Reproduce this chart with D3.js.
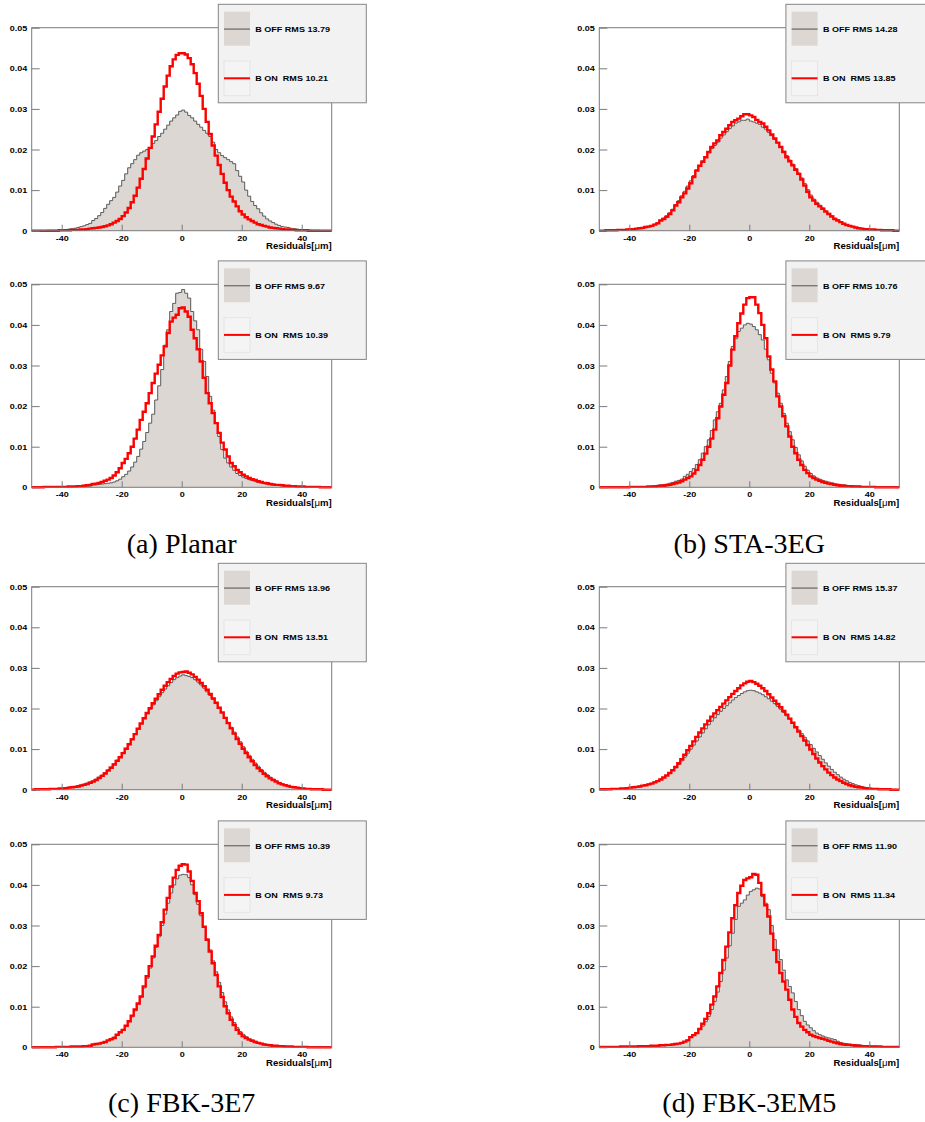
<!DOCTYPE html>
<html>
<head>
<meta charset="utf-8">
<script src="https://cdn.jsdelivr.net/npm/d3@7"></script>
<style>
body { margin: 0; background: #fff; }
svg text { font-family: "Liberation Sans", Arial, Helvetica, sans-serif; }
</style>
</head>
<body>
<div id="chart"></div>
<script>
////////////////////////////////////////////////////////////////
// Data: normalised residual histograms, 1 um bins from -50 to 50
// values are in units of 1e-4 (bin -50..-49 first)

var xTicks = [-40, -20, 0, 20, 40];
var yTicks = [0, 0.01, 0.02, 0.03, 0.04, 0.05];
var captions = ["(a) Planar", "(b) STA-3EG", "(c) FBK-3E7", "(d) FBK-3EM5"];
var offRms = ["13.79", "9.67", "14.28", "10.76", "13.96", "10.39", "15.37", "11.90"];
var onRms = ["10.21", "10.39", "13.85", "9.79", "13.51", "9.73", "14.82", "11.34"];

var planarOffTop = [0,0,0,0,0,1,1,1,1,2, 2,3,4,5,6,8,10,12,15,18, 25,30,37,45,55,65,74,82,95,110,
  124,140,155,165,175,186,192,196,200,205, 215,222,232,240,250,260,270,278,285,294,
  297,292,284,278,270,262,255,247,240,232, 218,200,192,185,180,175,170,165,148,134,
  120,100,85,72,62,54,44,36,29,24, 20,16,13,10,9,8,6,5,4,3, 3,2,2,1,1,1,0,0,0,0];
var planarOnTop = [0,0,0,0,0,0,0,0,0,1, 1,1,1,2,2,2,3,3,4,5, 6,7,8,9,11,13,16,20,24,29,
  36,45,56,70,86,106,128,152,178,204, 232,262,293,325,355,382,405,422,433,437,
  437,434,425,410,388,362,332,300,268,238, 210,185,162,140,118,100,84,72,60,48,
  40,33,28,24,20,16,14,12,10,8, 7,6,5,4,3,3,2,2,1,1, 1,1,0,0,0,0,0,0,0,0];
var planarOffBot = [0,0,0,0,0,0,0,0,1,1, 1,1,1,1,2,2,2,3,3,3, 6,6,7,8,9,10,11,13,16,20,
  26,32,40,50,62,76,94,113,135,158, 180,215,250,290,350,388,433,453,478,480,
  487,478,466,433,410,388,340,310,273,224, 190,158,125,93,72,60,50,42,34,29,
  25,22,19,17,15,12,11,9,8,7, 6,5,5,4,3,3,2,2,2,1, 1,1,1,0,0,0,0,0,0,0];
var planarOnBot = [0,0,0,0,1,1,1,1,1,1, 1,1,2,2,2,3,3,4,5,6, 8,9,11,13,16,19,23,29,37,47,
  60,70,84,100,120,142,166,186,207,232, 257,280,302,325,347,380,408,418,425,441,
  443,433,420,388,367,340,310,270,232,207, 183,158,134,110,93,76,60,52,43,37,
  31,27,23,20,18,15,13,11,10,8, 7,6,6,5,4,4,3,3,2,2, 2,1,1,1,1,1,0,0,0,0];

var staOffTop = [0,0,1,1,1,1,2,2,2,3, 4,5,5,6,8,9,11,13,16,20, 26,31,37,44,53,64,74,86,97,110,
  123,136,150,161,172,182,192,202,210,218, 228,236,244,252,258,265,268,272,272,275,
  270,268,265,262,255,250,242,234,225,216, 206,196,185,174,164,153,142,130,116,101,
  88,78,70,63,56,49,43,37,31,27, 22,18,15,12,10,8,7,5,4,4, 3,3,2,2,1,1,1,1,0,0];
var staOnTop = [0,0,1,1,1,1,2,2,2,3, 4,4,5,6,7,9,10,12,15,18, 25,29,34,41,50,62,70,82,92,104,
  117,132,148,160,170,181,194,206,215,222, 235,243,251,260,268,272,276,282,287,287,
  284,280,273,268,264,256,247,237,227,217, 206,194,181,171,161,150,140,126,111,96,
  82,74,66,60,54,47,41,35,29,25, 21,17,14,12,10,8,6,5,4,4, 3,3,2,2,1,1,1,1,0,0];
var staOffBot = [0,0,0,0,0,0,0,0,1,1, 1,1,1,2,2,2,2,3,4,5, 6,7,8,10,12,15,17,20,27,32,
  39,46,56,68,84,100,117,140,166,186, 207,240,273,310,347,366,384,392,400,404,
  402,396,388,376,363,340,314,281,257,232, 207,182,158,137,117,98,80,65,52,42,
  34,28,23,20,17,15,13,11,9,8, 7,6,5,4,4,3,3,2,2,1, 1,1,1,0,0,0,0,0,0,0];
var staOnBot = [0,0,0,0,0,0,0,0,0,0, 1,1,1,1,1,1,2,2,2,3, 4,4,5,6,8,10,12,15,19,23,
  27,34,43,55,68,83,100,120,142,170, 199,228,257,300,339,372,404,428,450,466,
  468,468,450,429,400,367,322,290,261,224, 199,175,150,125,100,84,68,55,43,35,
  27,23,19,16,13,11,9,8,6,5, 4,4,3,3,2,2,2,1,1,1, 1,1,0,0,0,0,0,0,0,0];

var e7OffTop = [0,1,1,1,1,2,2,2,3,3, 4,5,6,7,8,10,12,14,16,19, 22,26,31,36,42,49,56,64,73,82,
  92,102,114,126,138,151,163,175,187,198, 209,219,229,239,248,256,264,271,276,280,
  283,281,279,276,271,265,258,250,241,232, 222,212,201,190,178,166,154,142,130,118,
  106,95,85,75,66,58,50,43,37,31, 26,22,18,15,12,10,8,7,5,4, 3,3,2,2,1,1,1,1,0,0];
var e7OnTop = [0,1,1,1,1,1,2,2,2,3, 3,4,5,6,7,8,10,12,14,17, 20,24,29,34,40,47,54,62,71,80,
  90,101,112,124,137,150,163,176,189,201, 213,224,235,246,256,265,273,280,286,289,
  290,291,288,284,278,271,263,255,246,236, 225,214,202,190,177,164,151,138,125,113,
  101,90,80,70,61,53,46,39,33,28, 24,20,16,13,11,9,7,6,5,4, 3,2,2,1,1,1,1,0,0,0];
var e7OffBot = [0,0,0,0,0,0,0,0,1,1, 1,1,1,2,2,2,2,3,3,4, 7,8,10,12,14,17,21,25,31,37,
  44,53,63,75,90,106,124,146,170,195, 220,246,272,300,328,355,380,400,415,424,
  426,425,418,400,376,352,324,295,267,240, 213,186,160,135,112,92,75,61,49,39,
  32,26,21,18,15,12,10,8,7,6, 5,4,4,3,3,2,2,2,1,1, 1,1,1,0,0,0,0,0,0,0];
var e7OnBot = [0,0,0,0,0,0,0,0,1,1, 1,1,1,2,2,2,2,3,3,4, 7,8,9,11,13,17,20,23,31,37,
  43,53,64,78,93,108,125,150,175,200, 224,250,277,308,339,368,396,418,437,447,
  451,450,433,410,380,360,330,297,265,236, 207,178,150,124,101,84,68,55,43,34,
  27,23,19,16,13,11,9,7,6,5, 4,4,3,3,2,2,2,1,1,1, 1,1,0,0,0,0,0,0,0,0];

var em5OffTop = [1,1,1,2,2,2,3,3,4,4, 5,6,7,9,10,12,14,16,19,22, 26,30,35,41,47,54,62,71,80,90,
  100,110,120,130,140,150,160,169,177,185, 193,200,207,214,221,227,232,237,241,244,
  245,244,241,238,234,229,224,218,212,205, 198,190,182,174,165,156,147,138,129,120,
  111,102,93,84,75,66,58,50,43,37, 31,26,22,18,15,12,10,8,6,5, 4,3,3,2,2,1,1,1,1,0];
var em5OnTop = [1,1,1,1,2,2,2,3,3,4, 5,6,7,8,10,11,13,15,18,21, 25,30,35,41,48,56,65,75,86,97,
  108,119,130,141,151,161,170,180,188,196, 204,212,220,228,236,243,250,257,262,266,
  268,265,261,256,250,243,235,227,219,211, 203,194,185,175,165,154,143,132,121,110,
  99,88,77,67,58,50,42,36,30,25, 21,17,14,11,9,7,6,5,4,3, 2,2,2,1,1,1,1,0,0,0];
var em5OffBot = [1,1,1,1,1,1,1,2,2,2, 2,2,2,3,3,3,3,4,4,4, 5,5,6,6,7,8,9,11,14,18,
  25,30,36,44,52,63,76,93,113,136, 162,190,220,250,281,315,347,355,363,375,
  384,388,392,390,371,355,339,300,265,240, 216,190,166,150,134,113,93,78,64,55,
  48,41,35,31,28,25,23,21,19,15, 12,10,9,8,7,7,6,5,4,4, 3,3,3,2,2,2,2,1,1,1];
var em5OnBot = [1,1,1,1,1,1,1,2,2,2, 2,2,2,3,3,3,3,4,4,4, 5,5,6,6,7,8,9,11,14,17,
  25,30,35,45,58,70,84,105,125,150, 183,215,248,283,318,350,380,398,412,416,
  419,427,425,405,375,350,322,280,240,210, 183,162,142,117,93,75,60,51,43,37,
  31,28,25,23,21,19,16,14,12,10, 8,7,6,6,5,4,4,3,3,3, 2,2,2,2,1,1,1,1,1,1];

var offSeries = [planarOffTop, planarOffBot, staOffTop, staOffBot, e7OffTop, e7OffBot, em5OffTop, em5OffBot];
var onSeries = [planarOnTop, planarOnBot, staOnTop, staOnBot, e7OnTop, e7OnBot, em5OnTop, em5OnBot];

////////////////////////////////////////////////////////////////
// Layout

var svgWidth = 925;
var svgHeight = 1122;
var colX = [31.7, 599.3];
var rowY = [27.7, 284.3, 586.7, 844.3];
var frameW = 300;
var frameH = 203;
var captionY = [553, 1112];
// panel index -> [column, row]
var panelPos = [[0, 0], [0, 1], [1, 0], [1, 1], [0, 2], [0, 3], [1, 2], [1, 3]];

var fillColor = "#dcd7d3";
var frameColor = "#7a7a7a";
var offLine = "#595959";
var onLine = "#ff0000";
var stretch = 1.13;

var edges = d3.range(-50, 51);

var svg = d3.select("#chart")
    .append("svg")
    .attr("width", svgWidth)
    .attr("height", svgHeight)
    .style("background", "#fff");

function toPoints(vals) {
    // step points: value of bin i starts at its left edge
    return edges.map((e, i) => [e, vals[Math.min(i, vals.length - 1)] / 10000]);
}

function drawPanel(k) {
    var col = panelPos[k][0], row = panelPos[k][1];
    var g = svg.append("g")
        .attr("transform", `translate(${colX[col]}, ${rowY[row]})`);

    var x = d3.scaleLinear().domain([-50, 50]).range([0, frameW]);
    var y = d3.scaleLinear().domain([0, 0.05]).range([frameH, 0]);

    var offPts = toPoints(offSeries[k]);
    var onPts = toPoints(onSeries[k]);

    var area = d3.area()
        .x(d => x(d[0]))
        .y0(y(0))
        .y1(d => y(d[1]))
        .curve(d3.curveStepAfter);
    var line = d3.line()
        .x(d => x(d[0]))
        .y(d => y(d[1]))
        .curve(d3.curveStepAfter);

    // B OFF: filled histogram
    g.append("path").attr("d", area(offPts)).attr("fill", fillColor);
    g.append("path").attr("d", line(offPts))
        .attr("fill", "none").attr("stroke", offLine).attr("stroke-width", 1);

    // B ON: red outline
    g.append("path").attr("d", line(onPts))
        .attr("fill", "none").attr("stroke", onLine).attr("stroke-width", 2.4)
        .attr("stroke-linejoin", "miter");

    // frame
    g.append("rect")
        .attr("x", 0).attr("y", 0)
        .attr("width", frameW).attr("height", frameH)
        .attr("fill", "none").attr("stroke", frameColor).attr("stroke-width", 1);

    // axes (ticks inward, like ROOT)
    var xAxis = g.append("g")
        .attr("transform", `translate(0, ${frameH})`)
        .call(d3.axisBottom(x).tickValues(xTicks).tickSize(-6).tickPadding(4.5)
            .tickFormat(d => String(d)));
    var yAxis = g.append("g")
        .call(d3.axisLeft(y).tickValues(yTicks).tickSize(-8).tickPadding(4)
            .tickFormat(d => d === 0 ? "0" : d.toFixed(2)));

    [xAxis, yAxis].forEach(function (a) {
        a.select(".domain").remove();
        a.selectAll("line").attr("stroke", frameColor);
        a.selectAll("text")
            .attr("fill", "#000")
            .attr("font-size", 8)
            .attr("font-weight", "bold")
            .attr("font-family", "Liberation Sans, Arial, sans-serif")
            .attr("transform", `scale(${stretch},1)`);
    });

    // x title
    var xt = g.append("text")
        .attr("transform", `translate(${frameW}, ${frameH + 18.5}) scale(${stretch},1)`)
        .attr("text-anchor", "end")
        .attr("font-size", 8.5)
        .attr("font-weight", "bold");
    xt.append("tspan").text("Residuals[");
    xt.append("tspan").attr("font-weight", "normal").text("\u03bc");
    xt.append("tspan").text("m]");

    // legend
    var lg = g.append("g").attr("transform", `translate(186.6, -23.4)`);
    lg.append("rect")
        .attr("width", 148).attr("height", 98.5)
        .attr("fill", "#f2f2f2").attr("stroke", "#858585").attr("stroke-width", 1);

    lg.append("rect")
        .attr("x", 5.7).attr("y", 7.4).attr("width", 26).attr("height", 34)
        .attr("fill", fillColor);
    lg.append("line")
        .attr("x1", 5.7).attr("x2", 31.7).attr("y1", 24.8).attr("y2", 24.8)
        .attr("stroke", "#777").attr("stroke-width", 1.4);

    lg.append("rect")
        .attr("x", 5.7).attr("y", 56.8).attr("width", 26).attr("height", 34.6)
        .attr("fill", "#f4f4f4").attr("stroke", "#e2e2e2").attr("stroke-width", 0.8);
    lg.append("line")
        .attr("x1", 5.7).attr("x2", 31.7).attr("y1", 74).attr("y2", 74)
        .attr("stroke", onLine).attr("stroke-width", 2);

    var labels = ["B OFF RMS " + offRms[k], "B ON  RMS " + onRms[k]];
    [24.8, 74].forEach(function (ly, i) {
        lg.append("text")
            .attr("transform", `translate(37, ${ly}) scale(${stretch},1)`)
            .attr("dy", "0.35em")
            .attr("font-size", 8)
            .attr("font-weight", "bold")
            .style("white-space", "pre")
            .text(labels[i]);
    });
}

d3.range(8).forEach(drawPanel);

////////////////////////////////////////////////////////////////
// Sub-figure captions

captions.forEach(function (c, i) {
    var col = i % 2, r = Math.floor(i / 2);
    svg.append("text")
        .attr("transform", `translate(${colX[col] + frameW / 2}, ${captionY[r]}) scale(1.06,1)`)
        .attr("text-anchor", "middle")
        .style("font-family", "'Liberation Serif', 'Times New Roman', serif")
        .style("font-size", "26.5px")
        .text(c);
});
</script>
</body>
</html>
